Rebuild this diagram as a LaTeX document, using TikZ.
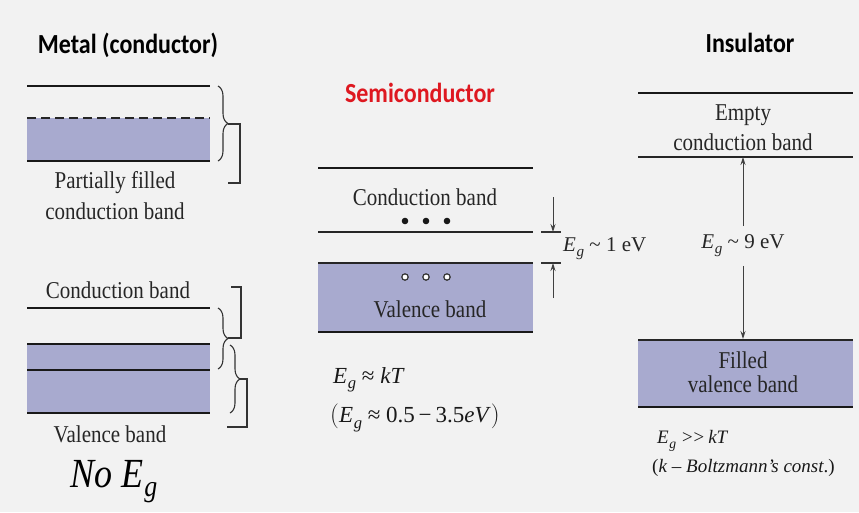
\documentclass[tikz,border=0pt]{standalone}
\usepackage{fontspec}
\setmainfont{Liberation Serif}
\newfontfamily\titlefont{Carlito}
\usetikzlibrary{arrows.meta,decorations.pathreplacing}

\definecolor{bandfill}{RGB}{168,170,207}
\definecolor{bgcol}{RGB}{242,242,242}
\definecolor{semired}{RGB}{222,24,32}

\newcommand{\Eg}{\textit{E}\kern0.03em\raisebox{-0.5ex}{\scalebox{0.72}{\textit{g}}}}
\newcommand{\tall}[1]{\scalebox{1}[1.15]{#1}}

\tikzset{
  edge/.style={line width=2.6pt,black!90},
  thinedge/.style={line width=1.6pt,black!85},
  band/.style={fill=bandfill},
  lbl/.style={font=\fontsize{21}{23}\selectfont,text=black!85,inner sep=0pt},
  ttl/.style={font=\titlefont\bfseries\fontsize{24}{26}\selectfont,inner sep=0pt},
  eqn/.style={font=\fontsize{23}{25}\selectfont,text=black!90,inner sep=0pt,anchor=west},
  note/.style={font=\fontsize{19}{21}\selectfont,text=black!90,inner sep=0pt,anchor=west},
  gaparrow/.style={-{Stealth[length=8pt,width=5pt]},line width=1pt,black!75},
  brk/.style={line width=1.1pt,black!80},
  brc/.style={decorate,decoration={brace,amplitude=10pt},line width=1.1pt,black!80},
}

\begin{document}
\begin{tikzpicture}[x=1pt,y=-1pt]
\fill[bgcol] (0,0) rectangle (859,512);
\useasboundingbox (0,0) rectangle (859,512);

% titles
\node[ttl] (metal) at (128,45) {\tall{Metal (conductor)}};
\node[ttl,text=semired] (semi) at (420,93) {\tall{Semiconductor}};
\node[ttl] (insul) at (750,43) {\tall{Insulator}};

% metal: partially filled conduction band
\fill[band] (27,118) rectangle (210,161);
\draw[edge] (27,86) -- (210,86);
\draw[line width=2pt,black!85,dash pattern=on 9pt off 5pt] (27,118) -- (210,118);
\draw[edge] (27,161) -- (210,161);
\draw[brc] (218,86) -- (218,161);
\draw[brk] (228,124) -- (240,124) -- (240,183) -- (228,183);
\node[lbl] (pfill) at (115,183) {\tall{Partially filled}};
\node[lbl] (pcond) at (115,211) {\tall{conduction band}};

% metal: overlapping bands
\fill[band] (27,344) rectangle (210,413);
\foreach \yy in {308,344,370,413}
  {\draw[edge] (27,\yy) -- (210,\yy);}
\draw[brc] (218,308) -- (218,369);
\draw[brk] (228,338) -- (241,338) -- (241,287) -- (231,287);
\draw[brc] (230,345) -- (230,413);
\draw[brk] (240,379) -- (247,379) -- (247,427) -- (227,427);
\node[lbl] (mcond) at (118,290) {\tall{Conduction band}};
\node[lbl] (mval) at (110,434) {\tall{Valence band}};
\node[font=\fontsize{36}{38}\selectfont,inner sep=0pt,anchor=base west] (noeg) at (70,487) {\tall{\textit{No} \Eg}};

% semiconductor
\fill[band] (318,263) rectangle (533,332);
\draw[edge] (318,168) -- (533,168);
\draw[thinedge] (318,232) -- (533,232);
\draw[thinedge] (318,263) -- (533,263);
\draw[edge] (318,332) -- (533,332);
\node[lbl] (scond) at (425,197) {\tall{Conduction band}};
\node[lbl] (sval) at (430,309) {\tall{Valence band}};
\foreach \xx in {405,426,447}
  {\fill[black!90] (\xx,221) circle (3.3pt);
   \draw[line width=1.2pt,black!80,fill=white] (\xx,277) circle (3.2pt);}
\draw[brk] (541,232) -- (561,232);
\draw[brk] (541,263) -- (561,263);
\coordinate (ctop) at (553,197);
\coordinate (cbot) at (553,232);
\coordinate (vbot) at (553,298);
\coordinate (vtop) at (553,263);
\draw[gaparrow] (ctop) -- (cbot);
\draw[gaparrow] (vbot) -- (vtop);
\node[lbl,anchor=west] (seg) at (563,249) {\Eg\ \textasciitilde\ 1 eV};
\node[eqn] (skt) at (333,380) {\Eg\ ≈\ \textit{kT}};
\node[eqn] (srange) at (330,418) {$\Bigl($\Eg\ ≈\ 0.5\,−\,3.5\textit{eV}$\Bigr)$};

% insulator
\fill[band] (638,340) rectangle (853,407);
\draw[edge] (638,93) -- (853,93);
\draw[thinedge] (638,157) -- (853,157);
\draw[thinedge] (638,340) -- (853,340);
\draw[edge] (638,407) -- (853,407);
\node[lbl] (iempty) at (743,115) {\tall{Empty}};
\node[lbl] (icond) at (743,142) {\tall{conduction band}};
\node[lbl] (ifill) at (743,360) {\tall{Filled}};
\node[lbl] (ival) at (743,384) {\tall{valence band}};
\node[lbl,outer sep=9pt] (ieg) at (743,246) {\Eg\ \textasciitilde\ 9 eV};
\coordinate (itop) at (743,157);
\coordinate (ibot) at (743,339);
\draw[gaparrow] (ieg.north) -- (itop);
\draw[gaparrow] (ieg.south) -- (ibot);
\node[note] (ikt) at (657,441) {\Eg\ \textit{>\kern-0.08em>\,kT}};
\node[note] (iboltz) at (652,468) {(\textit{k} – \textit{Boltzmann's const}.)};
\end{tikzpicture}
\end{document}
